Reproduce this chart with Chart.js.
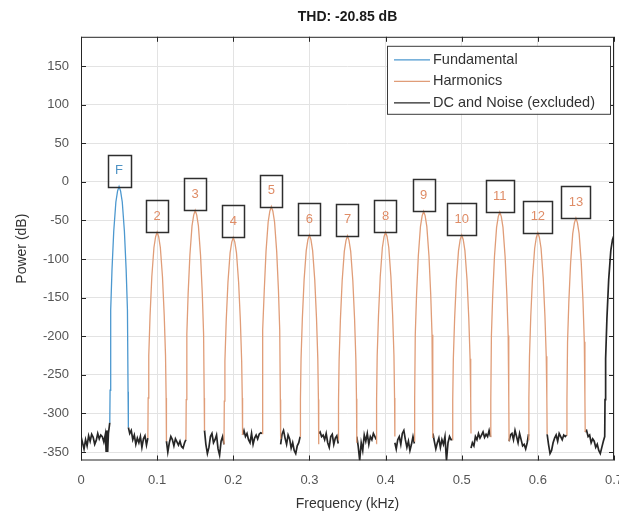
<!DOCTYPE html>
<html>
<head>
<meta charset="utf-8">
<script src="https://cdn.jsdelivr.net/npm/chart.js@4.4.1/dist/chart.umd.min.js"></script>
<style>
  html, body { margin: 0; padding: 0; background: #fff; overflow: hidden; }
  #wrap { width: 640px; height: 519px; }
</style>
</head>
<body>
<div id="wrap"><canvas id="thd"></canvas></div>
<script>
// ====== DATA ======
const titleText = 'THD: -20.85 dB';
const seriesNames = ['Fundamental', 'Harmonics', 'DC and Noise (excluded)'];

// fundamental lobe (kHz, dB)
const fundFreq = [0.0378, 0.0382, 0.0390, 0.0407, 0.0430, 0.0458, 0.0480, 0.0500, 0.0520, 0.0542, 0.0570, 0.0593, 0.0610, 0.0618, 0.0622];
const fundPow = [-312, -270, -166, -114, -64, -26, -12, -6, -12, -26, -64, -114, -166, -272, -318];

// harmonic lobes 2..13, null = gap
const harmFreq = [
  0.0878, 0.0882, 0.0890, 0.0907, 0.0930, 0.0958, 0.0980, 0.1000, 0.1020, 0.1042, 0.1070, 0.1093, 0.1110, 0.1118, 0.1122, null,
  0.1378, 0.1382, 0.1390, 0.1407, 0.1430, 0.1458, 0.1480, 0.1500, 0.1520, 0.1542, 0.1570, 0.1593, 0.1610, 0.1618, 0.1622, null,
  0.1878, 0.1882, 0.1890, 0.1907, 0.1930, 0.1958, 0.1980, 0.2000, 0.2020, 0.2042, 0.2070, 0.2093, 0.2110, 0.2118, 0.2122, null,
  0.2378, 0.2382, 0.2390, 0.2407, 0.2430, 0.2458, 0.2480, 0.2500, 0.2520, 0.2542, 0.2570, 0.2593, 0.2610, 0.2618, 0.2622, null,
  0.2878, 0.2882, 0.2890, 0.2907, 0.2930, 0.2958, 0.2980, 0.3000, 0.3020, 0.3042, 0.3070, 0.3093, 0.3110, 0.3118, 0.3122, null,
  0.3378, 0.3382, 0.3390, 0.3407, 0.3430, 0.3458, 0.3480, 0.3500, 0.3520, 0.3542, 0.3570, 0.3593, 0.3610, 0.3618, 0.3622, null,
  0.3878, 0.3882, 0.3890, 0.3907, 0.3930, 0.3958, 0.3980, 0.4000, 0.4020, 0.4042, 0.4070, 0.4093, 0.4110, 0.4118, 0.4122, null,
  0.4378, 0.4382, 0.4390, 0.4407, 0.4430, 0.4458, 0.4480, 0.4500, 0.4520, 0.4542, 0.4570, 0.4593, 0.4610, 0.4618, 0.4622, null,
  0.4878, 0.4882, 0.4890, 0.4907, 0.4930, 0.4958, 0.4980, 0.5000, 0.5020, 0.5042, 0.5070, 0.5093, 0.5110, 0.5118, 0.5122, null,
  0.5378, 0.5382, 0.5390, 0.5407, 0.5430, 0.5458, 0.5480, 0.5500, 0.5520, 0.5542, 0.5570, 0.5593, 0.5610, 0.5618, 0.5622, null,
  0.5878, 0.5882, 0.5890, 0.5907, 0.5930, 0.5958, 0.5980, 0.6000, 0.6020, 0.6042, 0.6070, 0.6093, 0.6110, 0.6118, 0.6122, null,
  0.6378, 0.6382, 0.6390, 0.6407, 0.6430, 0.6458, 0.6480, 0.6500, 0.6520, 0.6542, 0.6570, 0.6593, 0.6610, 0.6618, 0.6622
];
const harmPow = [
  -332, -280, -225, -173, -123, -85, -71, -65, -71, -85, -123, -173, -225, -280, -336, null,
  -334, -282, -197, -145, -95, -57, -43, -37, -43, -57, -95, -145, -197, -280, -322, null,
  -340, -284, -232, -180, -130, -92, -78, -72, -78, -92, -130, -180, -232, -280, -328, null,
  -326, -280, -192, -140, -90, -52, -38, -32, -38, -52, -90, -140, -192, -282, -333, null,
  -330, -281, -229, -177, -127, -89, -75, -69, -75, -89, -127, -177, -229, -282, -340, null,
  -334, -283, -230, -178, -128, -90, -76, -70, -76, -90, -128, -178, -230, -281, -338, null,
  -339, -282, -225, -173, -123, -85, -71, -65, -71, -85, -123, -173, -225, -280, -330, null,
  -336, -280, -198, -146, -96, -58, -44, -38, -44, -58, -96, -146, -198, -283, -332, null,
  -334, -282, -229, -177, -127, -89, -75, -69, -75, -89, -127, -177, -229, -280, -326, null,
  -330, -281, -199, -147, -97, -59, -45, -39, -45, -59, -97, -147, -199, -282, -336, null,
  -334, -280, -226, -174, -124, -86, -72, -66, -72, -86, -124, -174, -226, -281, -327, null,
  -328, -282, -207, -155, -105, -67, -53, -47, -53, -67, -105, -155, -207, -280, -324
];

// DC and noise floor between the lobes, null = gap
const noiseFreq = [
  0, 0.002, 0.004, 0.006, 0.008, 0.010, 0.012, 0.014, 0.016, 0.018, 0.020, 0.022, 0.024, 0.026, 0.028, 0.030, 0.032, 0.033, 0.034, 0.035, 0.036, 0.0378, null,
  0.0622, 0.0640, 0.0660, 0.0680, 0.0700, 0.0720, 0.0740, 0.0760, 0.0780, 0.0800, 0.0820, 0.0840, 0.0860, 0.0878, null,
  0.1122, 0.1140, 0.1160, 0.1180, 0.1200, 0.1220, 0.1240, 0.1260, 0.1280, 0.1300, 0.1320, 0.1340, 0.1360, 0.1378, null,
  0.1622, 0.1640, 0.1660, 0.1680, 0.1700, 0.1720, 0.1740, 0.1760, 0.1780, 0.1800, 0.1820, 0.1840, 0.1860, 0.1878, null,
  0.2122, 0.2140, 0.2160, 0.2180, 0.2200, 0.2220, 0.2240, 0.2260, 0.2280, 0.2300, 0.2320, 0.2340, 0.2360, 0.2378, null,
  0.2622, 0.2640, 0.2660, 0.2680, 0.2700, 0.2720, 0.2740, 0.2760, 0.2780, 0.2800, 0.2820, 0.2840, 0.2860, 0.2878, null,
  0.3122, 0.3140, 0.3160, 0.3180, 0.3200, 0.3220, 0.3240, 0.3260, 0.3280, 0.3300, 0.3320, 0.3340, 0.3360, 0.3378, null,
  0.3622, 0.3640, 0.3660, 0.3680, 0.3700, 0.3720, 0.3740, 0.3760, 0.3780, 0.3800, 0.3820, 0.3840, 0.3860, 0.3878, null,
  0.4122, 0.4140, 0.4160, 0.4180, 0.4200, 0.4220, 0.4240, 0.4260, 0.4280, 0.4300, 0.4320, 0.4340, 0.4360, 0.4378, null,
  0.4622, 0.4640, 0.4660, 0.4680, 0.4700, 0.4720, 0.4740, 0.4760, 0.4780, 0.4800, 0.4820, 0.4840, 0.4860, 0.4878, null,
  0.5122, 0.5140, 0.5160, 0.5180, 0.5200, 0.5220, 0.5240, 0.5260, 0.5280, 0.5300, 0.5320, 0.5340, 0.5360, 0.5378, null,
  0.5622, 0.5640, 0.5660, 0.5680, 0.5700, 0.5720, 0.5740, 0.5760, 0.5780, 0.5800, 0.5820, 0.5840, 0.5860, 0.5878, null,
  0.6122, 0.6140, 0.6160, 0.6180, 0.6200, 0.6220, 0.6240, 0.6260, 0.6280, 0.6300, 0.6320, 0.6340, 0.6360, 0.6378, null,
  0.6622, 0.6640, 0.6660, 0.6680, 0.6700, 0.6720, 0.6740, 0.6760, 0.6780, 0.6800, 0.6820, 0.6840, 0.6860, 0.6878,
  0.6882, 0.6890, 0.6907, 0.6930, 0.6958, 0.6980, 0.7000
];
const noisePow = [
  -330, -338, -346, -334, -342, -329, -336, -327, -331, -340, -335, -326, -333, -328, -330, -337, -327, -349, -322, -350, -326, -312, null,
  -318, -326, -322, -334, -328, -340, -332, -338, -330, -344, -333, -329, -341, -332, null,
  -336, -350, -338, -330, -334, -342, -333, -337, -341, -336, -343, -345, -338, -334, null,
  -322, -340, -352, -344, -330, -326, -338, -334, -328, -346, -354, -336, -330, -340, null,
  -328, -322, -330, -326, -334, -338, -326, -340, -332, -328, -333, -327, -325, -326, null,
  -340, -327, -322, -332, -340, -328, -333, -345, -338, -348, -352, -342, -338, -330, null,
  -326, -324, -330, -328, -334, -326, -338, -344, -330, -327, -340, -332, -329, -339, null,
  -330, -342, -361, -338, -348, -328, -336, -326, -340, -330, -334, -326, -330, -334, null,
  -338, -346, -334, -330, -340, -326, -322, -334, -344, -336, -348, -340, -330, -339, null,
  -326, -336, -346, -338, -332, -344, -334, -340, -330, -361, -338, -330, -334, -334, null,
  -345, -338, -342, -330, -334, -326, -332, -328, -324, -331, -327, -330, -322, -330, null,
  -336, -328, -326, -334, -322, -330, -338, -326, -334, -342, -340, -346, -338, -327, null,
  -327, -340, -352, -348, -338, -332, -328, -336, -326, -330, -334, -328, -330, -328, null,
  -324, -322, -330, -328, -338, -333, -336, -344, -340, -348, -352, -344, -336, -330,
  -282, -229, -177, -127, -89, -75, -69
];

// peak labels
const peakLabels = ['F', '2', '3', '4', '5', '6', '7', '8', '9', '10', '11', '12', '13'];
const peakFreq = [0.05, 0.10, 0.15, 0.20, 0.25, 0.30, 0.35, 0.40, 0.45, 0.50, 0.55, 0.60, 0.65];
const peakPow = [-6, -65, -37, -72, -32, -69, -70, -65, -38, -69, -39, -66, -47];

const xTicks = [0, 0.1, 0.2, 0.3, 0.4, 0.5, 0.6, 0.7];
const yTicks = [150, 100, 50, 0, -50, -100, -150, -200, -250, -300, -350];

// ====== STYLE ======
const blue = '#4c98cf';
const orange = '#e09d78';
const dark = '#262626';
const font = 'Liberation Sans, Arial, Helvetica, sans-serif';

function toPoints(xs, ys) {
  return xs.map((x, i) => x === null ? { x: xs[i - 1], y: null } : { x: x, y: ys[i] });
}

// box frame + inward ticks like matlab
const framePlugin = {
  id: 'frame',
  afterDraw(chart) {
    const { ctx, chartArea: a, scales } = chart;
    ctx.save();
    ctx.strokeStyle = dark;
    ctx.lineWidth = 1;
    ctx.strokeRect(a.left + 0.5, a.top + 0.5, a.right - a.left - 1, a.bottom - a.top - 1);
    ctx.beginPath();
    scales.x.ticks.forEach(t => {
      const px = Math.round(scales.x.getPixelForValue(t.value)) + 0.5;
      ctx.moveTo(px, a.bottom); ctx.lineTo(px, a.bottom - 5);
      ctx.moveTo(px, a.top); ctx.lineTo(px, a.top + 5);
    });
    scales.y.ticks.forEach(t => {
      const py = Math.round(scales.y.getPixelForValue(t.value)) + 0.5;
      ctx.moveTo(a.left, py); ctx.lineTo(a.left + 5, py);
      ctx.moveTo(a.right, py); ctx.lineTo(a.right - 5, py);
    });
    ctx.stroke();
    ctx.restore();
  }
};

// boxed labels sitting on each peak
const peakLabelPlugin = {
  id: 'peakLabels',
  afterDatasetsDraw(chart) {
    const { ctx, scales } = chart;
    ctx.save();
    ctx.font = '13px ' + font;
    ctx.textAlign = 'center';
    ctx.textBaseline = 'middle';
    peakLabels.forEach((lab, i) => {
      const px = scales.x.getPixelForValue(peakFreq[i]);
      const py = scales.y.getPixelForValue(peakPow[i]);
      const w = ctx.measureText(lab).width + 15;
      const h = 32;
      ctx.strokeStyle = '#2e2e2e';
      ctx.lineWidth = 1.5;
      ctx.strokeRect(Math.round(px - w / 2) + 0.5, Math.round(py - h) + 0.5, Math.round(w), h);
      ctx.fillStyle = i === 0 ? '#4f93c4' : '#df8c66';
      ctx.fillText(lab, px, py - h / 2);
    });
    ctx.restore();
  }
};

// legend box in the top right corner of the axes
const legendPlugin = {
  id: 'boxLegend',
  afterDraw(chart) {
    const { ctx, chartArea: a } = chart;
    const colors = [blue, orange, dark];
    ctx.save();
    ctx.font = '14.5px ' + font;
    const w = 223;
    const h = 68;
    const left = a.right - 4 - w;
    const top = a.top + 9;
    ctx.fillStyle = '#fff';
    ctx.fillRect(left, top, w, h);
    ctx.strokeStyle = '#3a3a3a';
    ctx.lineWidth = 1;
    ctx.strokeRect(Math.round(left) + 0.5, top + 0.5, w, h);
    seriesNames.forEach((name, i) => {
      const y = top + 14 + i * 21.5;
      ctx.strokeStyle = colors[i];
      ctx.lineWidth = 1.3;
      ctx.beginPath();
      ctx.moveTo(left + 7, y);
      ctx.lineTo(left + 43, y);
      ctx.stroke();
      ctx.fillStyle = '#333';
      ctx.textBaseline = 'middle';
      ctx.fillText(name, left + 46, y);
    });
    ctx.restore();
  }
};

new Chart(document.getElementById('thd'), {
  type: 'line',
  data: {
    datasets: [
      { label: seriesNames[0], data: toPoints(fundFreq, fundPow), borderColor: blue, borderWidth: 1.3 },
      { label: seriesNames[1], data: toPoints(harmFreq, harmPow), borderColor: orange, borderWidth: 1.3 },
      { label: seriesNames[2], data: toPoints(noiseFreq, noisePow), borderColor: dark, borderWidth: 1.7 }
    ]
  },
  options: {
    responsive: true,
    maintainAspectRatio: false,
    animation: false,
    devicePixelRatio: 1,
    spanGaps: false,
    elements: { point: { radius: 0 }, line: { tension: 0, fill: false } },
    layout: { padding: { left: 0, right: 26, top: 0, bottom: 0 } },
    plugins: {
      legend: { display: false },
      tooltip: { enabled: false },
      title: {
        display: true,
        text: titleText,
        fullSize: false,
        color: '#1a1a1a',
        font: { family: font, size: 14, weight: 'bold' },
        padding: { top: 9, bottom: 11 }
      }
    },
    scales: {
      x: {
        type: 'linear',
        min: 0,
        max: 0.7,
        afterBuildTicks: s => { s.ticks = xTicks.map(v => ({ value: v })); },
        afterFit: s => { s.height = 58.5; },
        ticks: {
          padding: 12,
          color: '#555',
          font: { family: font, size: 13 },
          maxRotation: 0,
          callback: v => String(+v.toFixed(1))
        },
        grid: { color: '#e3e3e3', drawTicks: false },
        border: { display: false },
        title: {
          display: true,
          text: 'Frequency (kHz)',
          color: '#333',
          font: { family: font, size: 14 },
          padding: { top: 0, bottom: 6 }
        }
      },
      y: {
        type: 'linear',
        min: -361,
        max: 188,
        afterBuildTicks: s => { s.ticks = yTicks.map(v => ({ value: v })); },
        afterFit: s => { s.width = 81; },
        ticks: {
          padding: 12,
          color: '#555',
          font: { family: font, size: 13 }
        },
        grid: { color: '#e3e3e3', drawTicks: false },
        border: { display: false },
        title: {
          display: true,
          text: 'Power (dB)',
          color: '#333',
          font: { family: font, size: 14 },
          padding: { top: 14, bottom: 0 }
        }
      }
    }
  },
  plugins: [framePlugin, peakLabelPlugin, legendPlugin]
});
</script>
</body>
</html>
